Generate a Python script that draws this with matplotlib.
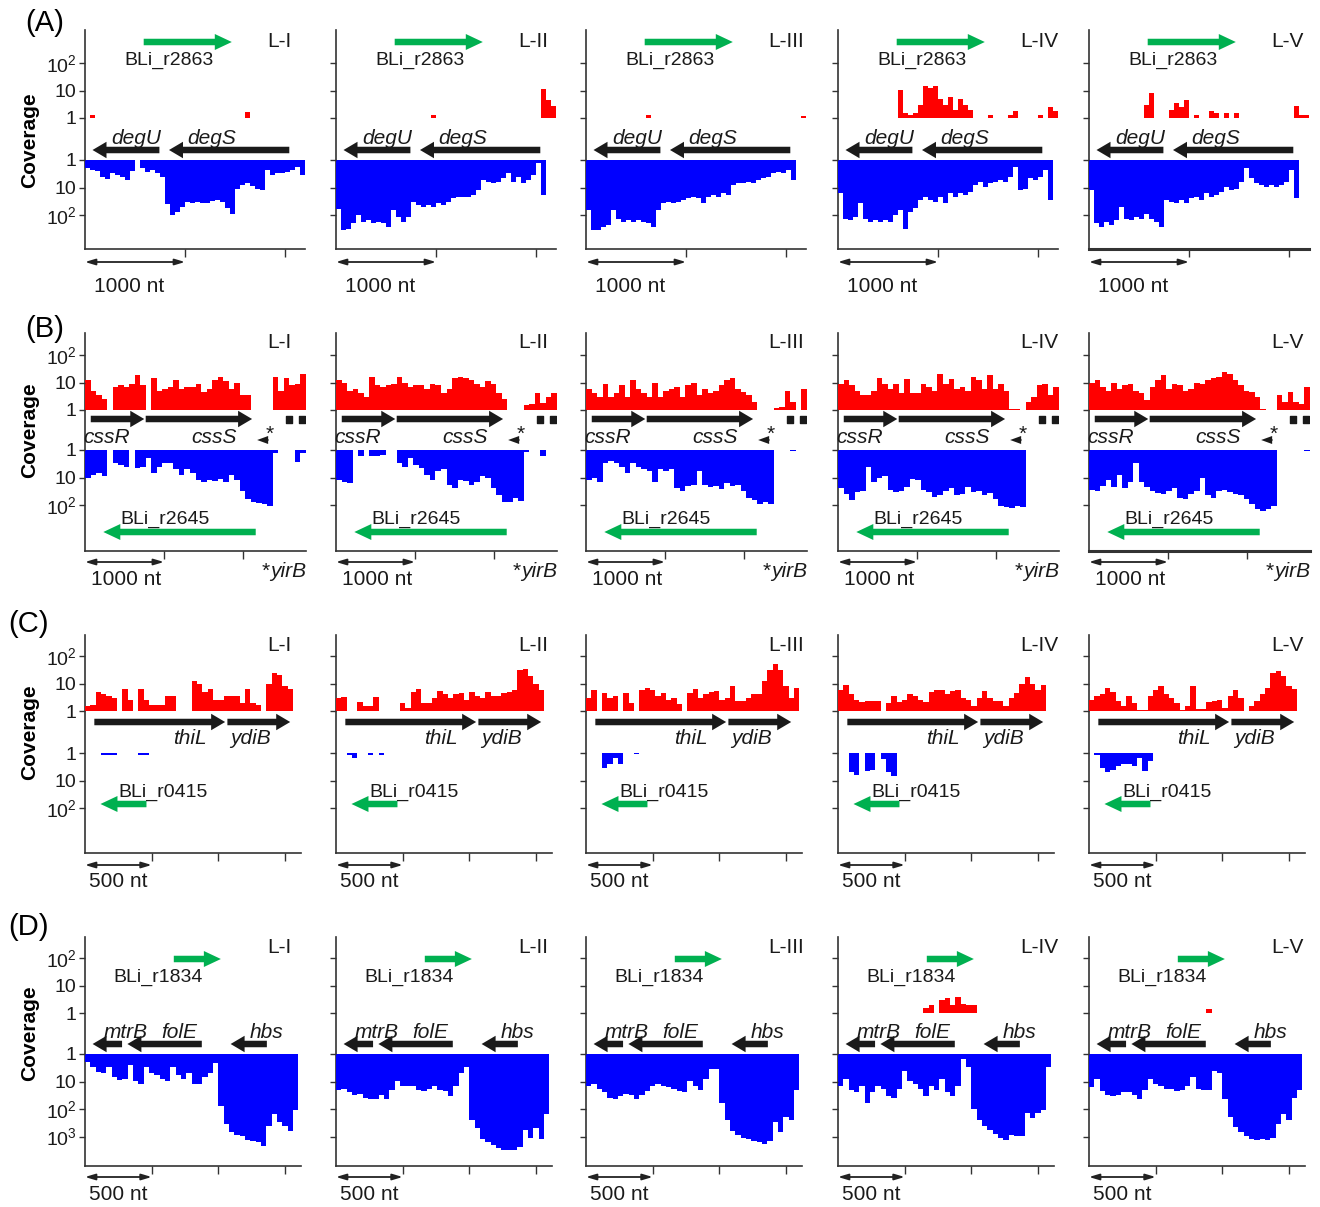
#!/usr/bin/python3

import numpy as np
import matplotlib
matplotlib.use('Agg')
import matplotlib.pyplot as plt
from matplotlib.patches import FancyArrow
from matplotlib.ticker import NullLocator

plt.rcParams['font.family'] = ['Liberation Sans', 'DejaVu Sans']
plt.rcParams['mathtext.fontset'] = 'custom'
plt.rcParams['mathtext.rm'] = 'Liberation Sans'
plt.rcParams['mathtext.it'] = 'Liberation Sans:italic'

lanes = ['L-I', 'L-II', 'L-III', 'L-IV', 'L-V']

# ---------------- (A) degU / degS, 50 nt bins, 0 = no reads ----------------
a_bin = 50
a_fwd = [
    [0, 1.3, 0, 0, 0, 0, 0, 0, 0, 0,
     0, 0, 0, 0, 0, 0, 0, 0, 0, 0,
     0, 0, 0, 0, 0, 0, 0, 0, 0, 0,
     0, 0, 1.6, 0, 0, 0, 0, 0, 0, 0,
     0, 0, 0, 0],
    [0, 0, 0, 0, 0, 0, 0, 0, 0, 0,
     0, 0, 0, 0, 0, 0, 0, 0, 0, 1.3,
     0, 0, 0, 0, 0, 0, 0, 0, 0, 0,
     0, 0, 0, 0, 0, 0, 0, 0, 0, 0,
     0, 11, 4.7, 2.7],
    [0, 0, 0, 0, 0, 0, 0, 0, 0, 0,
     0, 0, 1.3, 0, 0, 0, 0, 0, 0, 0,
     0, 0, 0, 0, 0, 0, 0, 0, 0, 0,
     0, 0, 0, 0, 0, 0, 0, 0, 0, 0,
     0, 0, 0, 1.2],
    [0, 0, 0, 0, 0, 0, 0, 0, 0, 0,
     0, 0, 10.5, 1.5, 1.3, 1.5, 3, 14, 12, 14,
     5, 3, 6, 2, 5, 3, 2, 0, 0, 0,
     1.3, 0, 0, 0, 1.3, 1.8, 0, 0, 0, 0,
     1.3, 0, 2.5, 1.8],
    [0, 0, 0, 0, 0, 0, 0, 0, 0, 0,
     0, 3, 8, 0, 0, 0, 2, 3.5, 2.5, 4.7,
     0, 1.3, 0, 0, 1.8, 1.5, 0, 1.5, 0, 1.5,
     0, 0, 0, 0, 0, 0, 0, 0, 0, 0,
     0, 2.7, 1.3, 1.3],
]
a_rev = [
    [2, 2.3, 2.5, 4, 5, 3, 3.5, 4, 5.5, 2.5,
     0, 2, 2.7, 2.3, 3, 4, 40, 100, 80, 50,
     33, 38, 33, 36, 36, 30, 29, 33, 58, 90,
     11, 8, 7, 9, 11, 12, 2.3, 3.5, 3, 3,
     2.7, 2.3, 1.8, 3.5],
    [60, 360, 310, 200, 100, 180, 155, 200, 180, 200,
     270, 67, 120, 180, 120, 33, 44, 50, 44, 50,
     38, 44, 33, 25, 22, 23, 22, 19, 12.5, 5.4,
     6.2, 7, 6.2, 4.7, 3, 6.2, 4, 7, 5.4, 3.5,
     1.3, 18, 0, 0],
    [67, 360, 360, 270, 240, 67, 135, 180, 155, 180,
     155, 180, 200, 270, 67, 38, 33, 38, 33, 29,
     25, 22, 25, 38, 22, 19, 22, 16.5, 19, 8,
     7, 7, 6.2, 7, 5.4, 4.7, 4, 3, 2.7, 3,
     2.3, 5.4, 0, 0],
    [16, 135, 155, 120, 38, 135, 180, 155, 180, 155,
     180, 100, 67, 320, 78, 58, 29, 22, 29, 33,
     22, 38, 16.5, 22, 16.5, 19, 14, 8, 6.2, 9.4,
     7, 6.2, 5.4, 6.2, 4, 1.8, 12.5, 11, 4.7, 5.4,
     4, 2.3, 29, 0],
    [12.5, 200, 270, 180, 240, 155, 50, 135, 155, 120,
     135, 90, 135, 180, 270, 29, 33, 38, 29, 38,
     25, 22, 29, 16.5, 22, 19, 14, 9.4, 12.5, 11,
     6.2, 2, 4.7, 7, 8, 9.4, 8, 9.4, 8, 6.2,
     2.3, 25, 0, 0],
]
a_genes = [('degU', 744, 75, 508), ('degS', 2043, 840, 1265)]
a_srna = ('BLi_r2863', 587, 1468, 837)

# ---------------- (B) cssR / cssS, 70 nt bins ----------------
b_bin = 70
b_fwd = [
    [12, 5, 3.5, 2.5, 0, 7, 8, 7, 9, 18,
     8, 0, 14, 5, 6, 7, 12, 6, 7, 7,
     9, 4.5, 6, 12, 16, 11, 6, 10, 3.5, 3.5,
     0, 0, 0, 0, 16, 5, 15, 8, 9, 20],
    [12, 10, 5, 6, 4, 3, 16, 8, 7, 8,
     9, 16, 10, 7, 8, 8, 6, 9, 8, 4,
     6, 14, 16, 14, 12, 9, 7, 11, 9, 4,
     2.5, 0, 0, 0, 1.5, 1.7, 4, 1.8, 3, 4],
    [6, 4, 3, 9, 3, 4, 8, 3, 12, 6,
     4, 3, 10, 3, 5, 6, 7, 3, 8, 10,
     3.5, 6, 4, 5, 8, 12, 14, 6, 4.5, 3.5,
     2, 0, 0, 0, 1.2, 1.3, 5, 2, 0, 6],
    [9, 12, 8, 5, 3.5, 3.5, 5, 14, 9, 6,
     9, 4, 13, 4, 4, 9, 7, 5, 20, 9,
     13, 6, 7, 5, 16, 12, 6, 18, 6, 9,
     5, 1.1, 1.1, 0, 2, 3, 8, 9, 3.5, 7],
    [10, 12, 7, 5, 10, 6, 8, 9, 5, 4,
     2.3, 7, 12, 18, 6, 9, 8, 5, 6, 10,
     9, 12, 15, 16, 24, 20, 12, 8, 5, 4.5,
     3, 1.1, 0, 0, 3.5, 2, 4.5, 2, 1.6, 7],
]
b_rev = [
    [10, 8, 7, 9, 0, 3, 3.5, 4, 0, 4.5,
     4, 2, 7, 4, 3, 3, 5, 8, 5, 7,
     12, 14, 12, 13, 11, 14, 8, 12, 30, 60,
     75, 85, 90, 110, 1.3, 0, 0, 0, 2.7, 1.3],
    [12, 14, 16, 0, 1.7, 0, 1.7, 1.7, 1.5, 0,
     0, 3, 4, 2, 3.5, 4.5, 8, 12, 6, 5,
     18, 24, 12, 13, 18, 15, 9, 10, 25, 45,
     75, 80, 55, 70, 1.2, 0, 0, 1.7, 0, 0],
    [12, 10, 14, 3, 2.5, 3, 4, 7, 3, 4,
     5, 6, 14, 5, 6, 5, 25, 31, 20, 18,
     6, 18, 22, 20, 26, 16, 20, 18, 30, 55,
     65, 95, 80, 90, 0, 0, 0, 1.1, 0, 0],
    [25, 40, 65, 35, 30, 4, 14, 10, 9, 28,
     35, 30, 22, 11, 12, 28, 35, 50, 45, 30,
     25, 45, 40, 22, 35, 30, 45, 38, 60, 110,
     120, 125, 110, 120, 0, 0, 0, 0, 0, 0],
    [28, 30, 20, 12, 22, 8, 25, 14, 3, 14,
     22, 30, 38, 40, 30, 25, 55, 60, 40, 30,
     10, 45, 55, 30, 28, 35, 40, 45, 60, 90,
     140, 170, 140, 110, 0, 0, 0, 0, 0, 1.05],
]
b_genes = [('cssR', 73, 751, 275), ('cssS', 769, 2117, 1640)]
b_yirb = (2327, 2181)
b_blocks = [(2541, 2618), (2709, 2782)]
b_srna = ('BLi_r2645', 2163, 232, 1015)

# ---------------- (C) thiL / ydiB, 40 nt bins ----------------
c_bin = 40
c_fwd = [
    [1.5, 1.6, 5, 4, 3.5, 3, 0, 6.5, 2.5, 0,
     6.5, 2.5, 1.6, 1.6, 1.6, 3.5, 3.5, 0, 0, 0,
     12, 10, 5, 6.5, 2.5, 2.5, 3.5, 3.5, 3.5, 2,
     6.5, 2, 1.6, 0, 10, 25, 20, 8, 6.5, 0],
    [3, 3.3, 0, 0, 2.1, 1.5, 1.5, 3.3, 0, 0,
     0, 0, 2, 1.3, 5, 6.5, 2, 2, 3, 5.5,
     4, 3, 4, 4.5, 2.5, 5, 3.5, 3, 5, 3.5,
     3.5, 4.5, 5, 6, 30, 35, 18, 10, 6, 0],
    [3, 6, 0, 4.5, 3, 3.5, 0, 4.5, 2, 0,
     6, 7, 6, 3.5, 4.5, 2.5, 3, 1.8, 0, 4.5,
     6.5, 3, 4, 5, 5.5, 2.5, 3, 8, 2.3, 2.3,
     3, 4, 4, 12, 30, 50, 30, 8, 3, 7],
    [6, 9, 4, 2.5, 2.2, 2.3, 2.3, 2.3, 0, 2,
     3.5, 2.2, 2.5, 4, 3.5, 2.5, 2.2, 5, 6, 6,
     4, 5.5, 6, 3, 2.5, 1.5, 3, 5.5, 3, 2.3,
     2.3, 1.5, 3, 4.5, 10, 17, 10, 6, 9, 0],
    [2.5, 3.5, 4, 7, 5, 2.3, 1.5, 3.5, 2, 1.1,
     1.1, 3.5, 6, 8, 4, 3, 2, 1.1, 1.5, 8,
     1.2, 1.2, 2.2, 2.3, 2.5, 1.3, 3.5, 6, 3, 0,
     1.5, 2.3, 4, 7, 25, 28, 18, 8, 6.5, 0],
]
c_rev = [
    [0, 0, 0, 1.2, 1.2, 1.2, 0, 0, 0, 0,
     1.2, 1.2, 0, 0, 0, 0, 0, 0, 0, 0,
     0, 0, 0, 0, 0, 0, 0, 0, 0, 0,
     0, 0, 0, 0, 0, 0, 0, 0, 0, 0],
    [0, 0, 1.2, 1.5, 0, 0, 1.2, 0, 1.2, 0,
     0, 0, 0, 0, 0, 0, 0, 0, 0, 0,
     0, 0, 0, 0, 0, 0, 0, 0, 0, 0,
     0, 0, 0, 0, 0, 0, 0, 0, 0, 0],
    [0, 0, 0, 3.5, 2.5, 1.5, 2.6, 0, 0, 1.05,
     0, 0, 0, 0, 0, 0, 0, 0, 0, 0,
     0, 0, 0, 0, 0, 0, 0, 0, 0, 0,
     0, 0, 0, 0, 0, 0, 0, 0, 0, 0],
    [0, 0, 5, 6.5, 0, 4.5, 4, 0, 1.7, 5,
     7, 0, 0, 0, 0, 0, 0, 0, 0, 0,
     0, 0, 0, 0, 0, 0, 0, 0, 0, 0,
     0, 0, 0, 0, 0, 0, 0, 0, 0, 0],
    [0, 1.2, 3.5, 5, 4, 3, 2.5, 2.5, 3, 1.5,
     4.5, 2, 0, 0, 0, 0, 0, 0, 0, 0,
     0, 0, 0, 0, 0, 0, 0, 0, 0, 0,
     0, 0, 0, 0, 0, 0, 0, 0, 0, 0],
]
c_genes = [('thiL', 70, 1051, 784), ('ydiB', 1068, 1539, 1240)]
c_srna = ('BLi_r0415', 461, 116, 583)

# ---------------- (D) mtrB / folE / hbs, 40 nt bins ----------------
d_bin = 40
d_fwd = [
    [0] * 40,
    [0] * 40,
    [0] * 40,
    [0, 0, 0, 0, 0, 0, 0, 0, 0, 0,
     0, 0, 0, 0, 0, 0, 1.5, 1.9, 0, 3,
     3.5, 2, 3.8, 2.2, 2, 2, 0, 0, 0, 0,
     0, 0, 0, 0, 0, 0, 0, 0, 0, 0],
    [0, 0, 0, 0, 0, 0, 0, 0, 0, 0,
     0, 0, 0, 0, 0, 0, 0, 0, 0, 0,
     0, 0, 1.4, 0, 0, 0, 0, 0, 0, 0,
     0, 0, 0, 0, 0, 0, 0, 0, 0, 0],
]
d_rev = [
    [2, 3, 4.5, 5, 3, 7, 9, 8, 2.5, 10,
     12, 3, 5, 6, 8, 10, 3, 6, 8, 5,
     12, 12, 7, 5, 2.2, 80, 350, 700, 850, 1000,
     1300, 1400, 1600, 2200, 400, 150, 300, 400, 650, 110],
    [20, 18, 25, 30, 28, 40, 45, 42, 30, 45,
     20, 10, 14, 15, 14, 20, 22, 18, 15, 20,
     22, 35, 15, 5, 3, 250, 500, 1200, 1600, 2000,
     2600, 3000, 3200, 3000, 2500, 600, 1100, 500, 1200, 150],
    [15, 12, 18, 25, 40, 45, 35, 28, 30, 45,
     30, 22, 15, 12, 14, 16, 18, 22, 24, 10,
     14, 20, 8, 3.4, 3.5, 60, 250, 650, 900, 1100,
     1200, 1400, 1600, 1800, 1500, 300, 700, 200, 250, 20],
    [14, 8, 20, 25, 15, 60, 25, 15, 18, 35,
     40, 18, 4, 10, 12, 18, 35, 14, 20, 8,
     25, 35, 15, 1.5, 3, 100, 250, 400, 600, 800,
     1100, 1300, 850, 1000, 1000, 140, 220, 140, 110, 3],
    [16, 8, 22, 30, 35, 30, 25, 25, 30, 45,
     20, 8, 12, 14, 18, 18, 22, 20, 14, 7,
     18, 20, 20, 4, 5, 45, 200, 450, 700, 1000,
     1200, 1300, 1200, 1300, 1100, 350, 150, 250, 40, 20],
]
d_genes = [('mtrB', 278, 57, 305), ('folE', 876, 318, 709), ('hbs', 1364, 1092, 1359)]
d_srna = ('BLi_r1834', 666, 1019, 545)

# ---------------- layout (pixels of the 1320 x 1207 canvas) ----------------
W, H = 1320, 1207
DEC = 27.5          # pixels per decade of coverage
RED, BLUE, GREEN, BLACK, AXC = '#ff0000', '#0000ff', '#00b050', '#1a1a1a', '#333333'
col_left = [85, 336, 586, 838, 1089]
pow_label = {1: '1', 10: '10', 100: r'$\mathregular{10^2}$', 1000: r'$\mathregular{10^3}$'}

rows = [
    dict(tag='(A)', tag_x=25, tag_y=23, cov_y=140, top=30, red1=118, blue1=160, bottom=249,
         width=220, xmax=2200, binw=a_bin, fwd=a_fwd, rev=a_rev, xticks=[1000, 2000],
         bar=1000, bar_txt='1000 nt', bar_y=262, bar_tx=440, bar_ty=292, lane_y=47,
         genes=a_genes, gene_y=150, glab_y=144, srna=a_srna, srna_y=42, slab_y=65,
         blue_ticks=[1, 10, 100]),
    dict(tag='(B)', tag_x=25, tag_y=329, cov_y=430, top=333, red1=410, blue1=450, bottom=551,
         width=221, xmax=2800, binw=b_bin, fwd=b_fwd, rev=b_rev, xticks=[1000, 2000],
         bar=1000, bar_txt='1000 nt', bar_y=562, bar_tx=515, bar_ty=585, lane_y=348,
         genes=b_genes, gene_y=419, glab_y=443, srna=b_srna, srna_y=532, slab_y=524,
         blue_ticks=[1, 10, 100]),
    dict(tag='(C)', tag_x=8, tag_y=624, cov_y=732, top=635, red1=711, blue1=753, bottom=853,
         width=216, xmax=1620, binw=c_bin, fwd=c_fwd, rev=c_rev, xticks=[500, 1000, 1500],
         bar=500, bar_txt='500 nt', bar_y=865, bar_tx=248, bar_ty=887, lane_y=651,
         genes=c_genes, gene_y=722, glab_y=744, srna=c_srna, srna_y=804, slab_y=797,
         blue_ticks=[1, 10, 100]),
    dict(tag='(D)', tag_x=8, tag_y=927, cov_y=1033, top=937, red1=1013, blue1=1054, bottom=1166,
         width=216, xmax=1620, binw=d_bin, fwd=d_fwd, rev=d_rev, xticks=[500, 1000, 1500],
         bar=500, bar_txt='500 nt', bar_y=1177, bar_tx=248, bar_ty=1200, lane_y=953,
         genes=d_genes, gene_y=1044, glab_y=1038, srna=d_srna, srna_y=959, slab_y=982,
         blue_ticks=[1, 10, 100, 1000]),
]

fig = plt.figure(figsize=(W / 100, H / 100), dpi=100)


def rect(left, top, width, bottom):
    return [left / W, 1 - bottom / H, width / W, (bottom - top) / H]


def coverage_axes(r, left, top, bottom, values, color, ticks, labels, flip):
    ax = fig.add_axes(rect(left, top, r['width'], bottom))
    ax.set_facecolor('none')
    for s in ax.spines.values():
        s.set_visible(False)
    ax.set_yscale('log')
    v = np.asarray(values, dtype=float)
    v = np.where(v > 0, v, 1.0)
    x = np.arange(len(v) + 1) * r['binw']
    y = np.append(v, v[-1])
    ax.fill_between(x, 1, y, step='post', color=color, lw=0)
    ax.set_xlim(0, r['xmax'])
    span = 10 ** ((bottom - top) / DEC)
    ax.set_ylim((span, 1) if flip else (1, span))
    ax.set_xticks([])
    ax.set_yticks(ticks)
    ax.yaxis.set_minor_locator(NullLocator())
    ax.set_yticklabels([pow_label[t] for t in ticks] if labels else [])
    ax.tick_params(axis='y', direction='out', length=4, width=1, color=AXC,
                   labelsize=14, pad=2, labelcolor='#1a1a1a')
    return ax


def arrow(ax, r, x0, x1, y, color, shaft, head, head_px):
    hl = head_px * r['xmax'] / r['width']
    ax.add_patch(FancyArrow(x0, y, x1 - x0, 0, width=shaft, head_width=head,
                            head_length=hl, length_includes_head=True, color=color, lw=0))


for ri, r in enumerate(rows):
    fig.text(r['tag_x'] / W, 1 - r['tag_y'] / H, r['tag'], fontsize=21, ha='left', va='center')
    fig.text(30 / W, 1 - r['cov_y'] / H, 'Coverage', fontsize=15, fontweight='bold',
             rotation=90, ha='center', va='center')
    for ci, left in enumerate(col_left):
        frame = fig.add_axes(rect(left, r['top'], r['width'], r['bottom']))
        frame.set_facecolor('none')
        frame.set_xlim(0, r['xmax'])
        frame.set_ylim(r['bottom'], r['top'])
        for side in ('top', 'right'):
            frame.spines[side].set_visible(False)
        frame.spines['left'].set_linewidth(1.2)
        frame.spines['bottom'].set_linewidth(2.2 if (ci == 4 and ri < 2) else 1.2)
        for side in ('left', 'bottom'):
            frame.spines[side].set_color(AXC)
        frame.set_yticks([])
        frame.set_xticks(r['xticks'])
        frame.tick_params(axis='x', direction='out', length=6, width=1, color=AXC,
                          labelbottom=False)

        coverage_axes(r, left, r['top'], r['red1'], r['fwd'][ci], RED,
                      [1, 10, 100], ci == 0, False)
        coverage_axes(r, left, r['blue1'], r['bottom'], r['rev'][ci], BLUE,
                      r['blue_ticks'], ci == 0, True)

        # annotated genes
        for name, g0, g1, lx in r['genes']:
            arrow(frame, r, g0, g1, r['gene_y'], BLACK, 6.5, 16.5, 14)
            frame.text(lx, r['glab_y'], name, fontsize=15, fontstyle='italic',
                       ha='center', va='baseline', color='#1a1a1a')
        name, s0, s1, lx = r['srna']
        arrow(frame, r, s0, s1, r['srna_y'], GREEN, 6.5, 16, 17)
        frame.text(lx, r['slab_y'], name, fontsize=14, ha='center', va='baseline',
                   color='#1a1a1a')

        if ri == 1:
            arrow(frame, r, b_yirb[0], b_yirb[1], 440, BLACK, 1.5, 8, 11)
            frame.text(2336, 434, '*', fontsize=15, ha='center', va='center', color='#1a1a1a')
            frame.broken_barh([(s, e - s) for s, e in b_blocks], (415.5, 7), color=BLACK)
            t = frame.text(r['xmax'], 577, 'yirB', fontsize=15, fontstyle='italic',
                           ha='right', va='baseline', color='#1a1a1a', clip_on=False)
            frame.annotate('*', xy=(0, 1), xycoords=t, fontsize=15, ha='right', va='top',
                           color='#1a1a1a', annotation_clip=False)

        # lane name
        fig.text((left + 182) / W, 1 - r['lane_y'] / H, lanes[ci], fontsize=15,
                 ha='left', va='baseline', color='#1a1a1a')

        # scale bar
        frame.annotate('', xy=(0, r['bar_y']), xytext=(r['bar'], r['bar_y']),
                       arrowprops=dict(arrowstyle='<|-|>,head_length=0.6,head_width=0.18',
                                       color='#222222', lw=1.3, shrinkA=0, shrinkB=0),
                       annotation_clip=False)
        frame.text(r['bar_tx'], r['bar_ty'], r['bar_txt'], fontsize=15, ha='center',
                   va='baseline', color='#1a1a1a', clip_on=False)

fig.savefig('out.png', dpi=100)
